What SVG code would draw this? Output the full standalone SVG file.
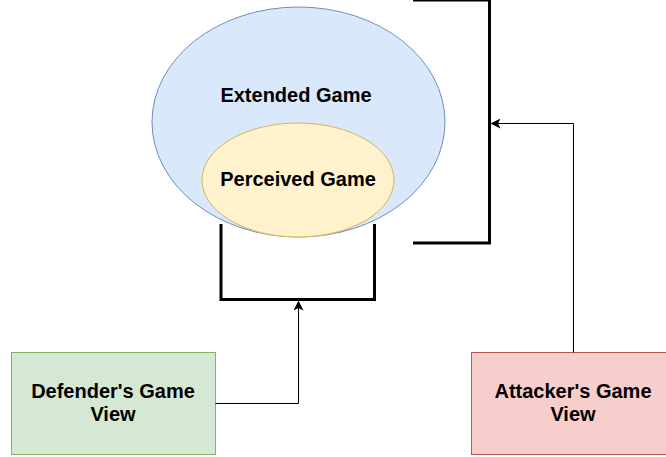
<svg xmlns="http://www.w3.org/2000/svg" width="666" height="457" viewBox="0 0 666 457">
  <style>
    .lbl { font-family: Helvetica, "Liberation Sans", Arial, sans-serif; font-size: 20px; font-weight: bold; fill: #000; text-anchor: middle; }
    .bracket { fill: none; stroke: #000; stroke-width: 3; }
    .conn { fill: none; stroke: #000; stroke-width: 1; }
  </style>
  <defs>
    <marker id="arrow" viewBox="0 0 10 10" refX="9" refY="5" markerWidth="10" markerHeight="10" markerUnits="userSpaceOnUse" orient="auto">
      <path d="M0,0 L10,5 L0,10 L2.5,5 Z" fill="#000"/>
    </marker>
  </defs>
  <rect width="666" height="457" fill="#fff"/>

  <g id="extended-game">
    <ellipse cx="298.5" cy="122" rx="146.5" ry="115" fill="#dae8fc" stroke="#6c8ebf"/>
    <text class="lbl" x="296" y="102">Extended Game</text>
  </g>

  <g id="perceived-game">
    <ellipse cx="298" cy="180" rx="96" ry="57" fill="#fff2cc" stroke="#d6b656"/>
    <text class="lbl" x="298" y="186">Perceived Game</text>
  </g>

  <g id="attacker-bracket">
    <path class="bracket" d="M413,0 H489.5 V243 H413"/>
  </g>

  <g id="defender-bracket">
    <path class="bracket" d="M221,224 V299.5 H374.5 V224"/>
  </g>

  <g id="defender-view">
    <rect x="11.5" y="352.5" width="204" height="102" fill="#d5e8d4" stroke="#82b366"/>
    <text class="lbl" x="113" y="397.5">Defender's Game</text>
    <text class="lbl" x="113" y="420.5">View</text>
  </g>

  <g id="attacker-view">
    <rect x="471.5" y="352.5" width="204" height="102" fill="#f8cecc" stroke="#b85450"/>
    <text class="lbl" x="573" y="397.5">Attacker's Game</text>
    <text class="lbl" x="573" y="420.5">View</text>
  </g>

  <g id="connectors">
    <path class="conn" d="M215.5,403.5 H298.5 V301.5" marker-end="url(#arrow)"/>
    <path class="conn" d="M573.5,352.5 V123.5 H491.5" marker-end="url(#arrow)"/>
  </g>
</svg>
